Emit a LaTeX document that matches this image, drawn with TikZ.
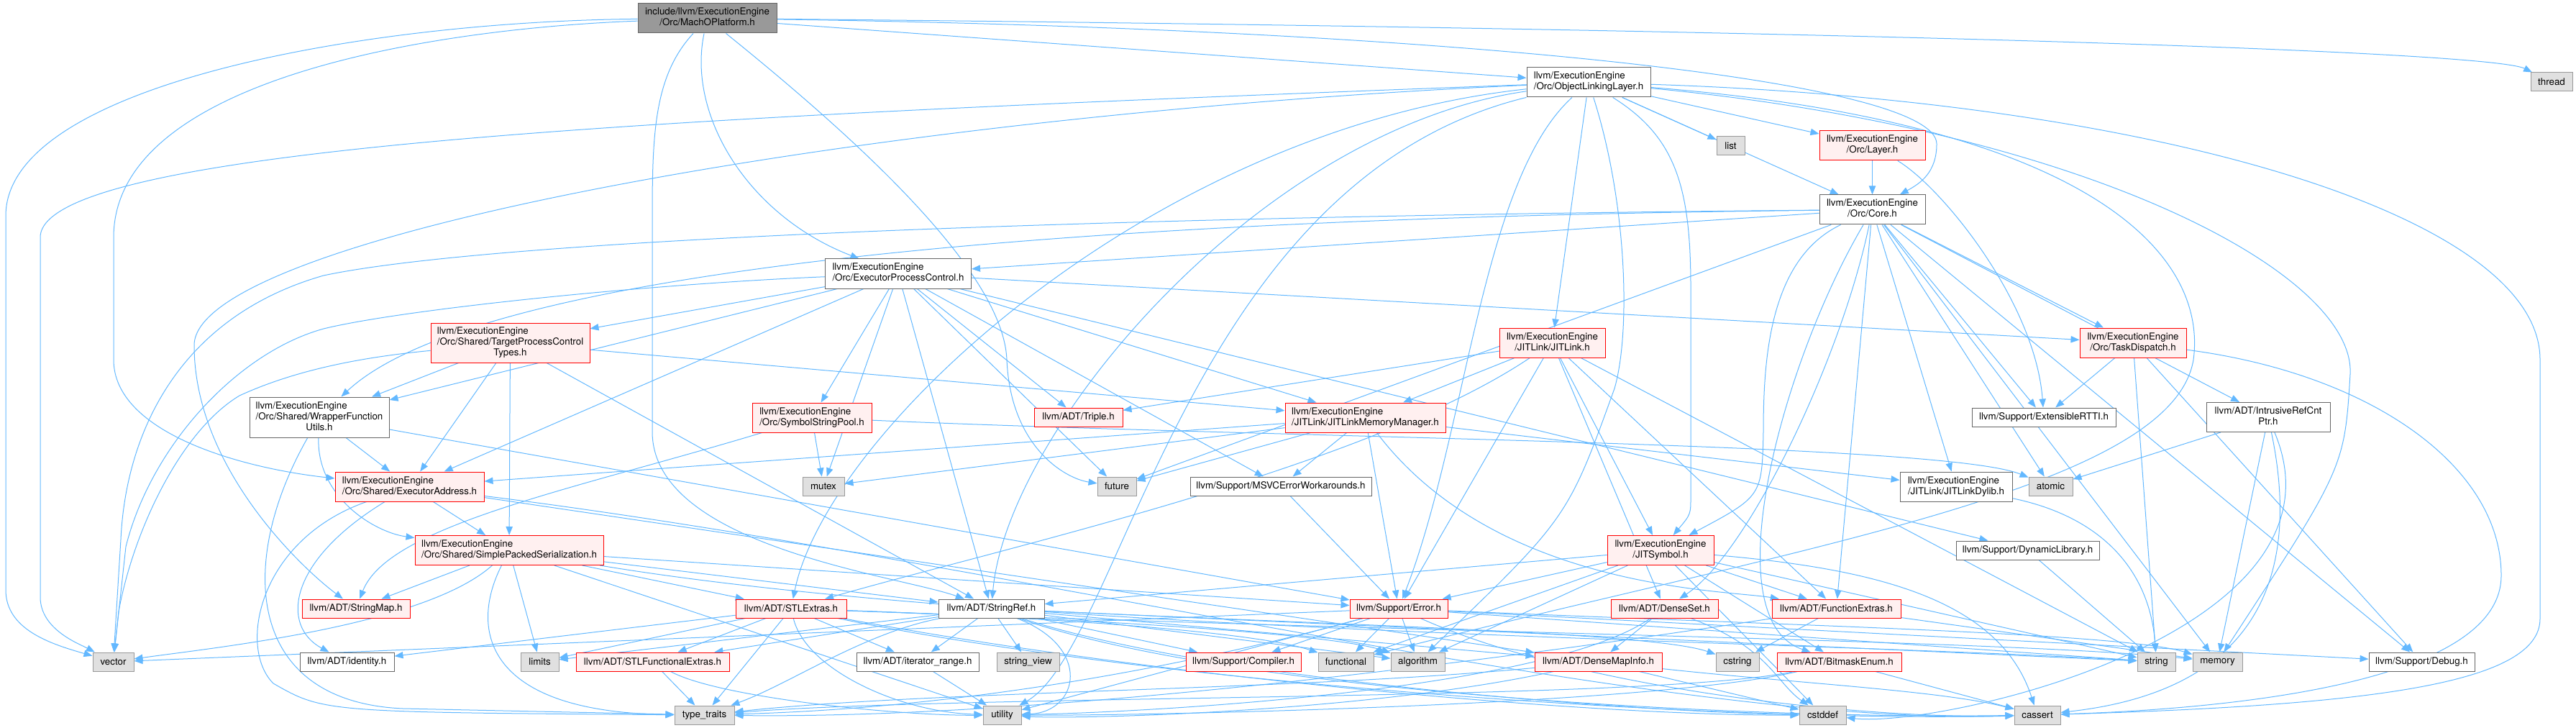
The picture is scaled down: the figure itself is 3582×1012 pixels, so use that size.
\documentclass[tikz,border=0pt]{standalone}
\usepackage{fontspec}
\setmainfont{TeX Gyre Heros}
\usetikzlibrary{arrows.meta}

\definecolor{edgeblue}{HTML}{63B8FF}
\definecolor{redfill}{HTML}{FFF0F0}
\definecolor{sysfill}{HTML}{E0E0E0}
\definecolor{sysline}{HTML}{999999}
\definecolor{fileline}{HTML}{666666}

\pgfdeclarelayer{edges}
\pgfsetlayers{edges,main}

% etiqueta de dos partes: lineas de arriba a la izquierda, la ultima centrada
\newcommand{\lbl}[2]{\begin{tabular}{@{}l@{}}#1\\\multicolumn{1}{@{}c@{}}{#2}\end{tabular}}

\tikzset{
  hdr/.style={inner sep=0pt, line width=0.75pt, font=\fontsize{10}{11.25}\selectfont},
  sz/.style 2 args={minimum width=#1*0.75pt, minimum height=#2*0.75pt},
  rootfile/.style={hdr, draw=fileline, fill=sysline},
  plainfile/.style={hdr, draw=fileline, fill=white},
  redfile/.style={hdr, draw=red, fill=redfill},
  sysfile/.style={hdr, draw=sysline, fill=sysfill},
  dep/.style={draw=edgeblue, line width=0.75pt, -{Triangle[length=9pt,width=7pt]}}
}

\begin{document}
\begin{tikzpicture}[x=0.75pt, y=-0.75pt]
  \useasboundingbox (0,0) rectangle (3582,1012);

  % Cabeceras (coordenadas en pixeles de la imagen)
  \node[rootfile, sz={193}{41}] (root) at (983.5,25.5) {\lbl{include/llvm/ExecutionEngine}{/Orc/MachOPlatform.h}};
  \node[plainfile, sz={172}{41}] (oll) at (2209,114.5) {\lbl{llvm/ExecutionEngine}{/Orc/ObjectLinkingLayer.h}};
  \node[sysfile, sz={58}{26}] (thread) at (3548,114) {thread};
  \node[sysfile, sz={39}{26}] (list) at (2406.5,203) {list};
  \node[redfile, sz={147}{41}] (layer) at (2603.5,202.5) {\lbl{llvm/ExecutionEngine}{/Orc/Layer.h}};
  \node[plainfile, sz={147}{41}] (core) at (2603.5,291.5) {\lbl{llvm/ExecutionEngine}{/Orc/Core.h}};
  \node[plainfile, sz={203}{41}] (epc) at (1249,380.5) {\lbl{llvm/ExecutionEngine}{/Orc/ExecutorProcessControl.h}};
  \node[redfile, sz={221}{55}] (tpct) at (709.5,476.5) {\lbl{llvm/ExecutionEngine\\/Orc/Shared/TargetProcessControl}{Types.h}};
  \node[redfile, sz={147}{41}] (jitlink) at (2158.5,476.5) {\lbl{llvm/ExecutionEngine}{/JITLink/JITLink.h}};
  \node[redfile, sz={148}{41}] (taskdisp) at (2966,476.5) {\lbl{llvm/ExecutionEngine}{/Orc/TaskDispatch.h}};
  \node[plainfile, sz={194}{56}] (wfu) at (444,580) {\lbl{llvm/ExecutionEngine\\/Orc/Shared/WrapperFunction}{Utils.h}};
  \node[redfile, sz={166}{41}] (ssp) at (1129,580.5) {\lbl{llvm/ExecutionEngine}{/Orc/SymbolStringPool.h}};
  \node[redfile, sz={123}{26}] (triple) at (1499.5,580) {llvm/ADT/Triple.h};
  \node[redfile, sz={223}{41}] (jlmm) at (1898.5,580.5) {\lbl{llvm/ExecutionEngine}{/JITLink/JITLinkMemoryManager.h}};
  \node[plainfile, sz={200}{26}] (extrtti) at (2842,580) {llvm/Support/ExtensibleRTTI.h};
  \node[plainfile, sz={172}{41}] (ircp) at (3154,580) {\lbl{llvm/ADT/IntrusiveRefCnt}{Ptr.h}};
  \node[redfile, sz={207}{41}] (execaddr) at (569.5,676.5) {\lbl{llvm/ExecutionEngine}{/Orc/Shared/ExecutorAddress.h}};
  \node[sysfile, sz={58}{26}] (mutex) at (1145,676) {mutex};
  \node[sysfile, sz={54}{26}] (future) at (1553,676) {future};
  \node[plainfile, sz={252}{26}] (msvc) at (1781,676) {llvm/Support/MSVCErrorWorkarounds.h};
  \node[plainfile, sz={156}{41}] (jldylib) at (2720,676.5) {\lbl{llvm/ExecutionEngine}{/JITLink/JITLinkDylib.h}};
  \node[sysfile, sz={61}{26}] (atomic) at (2851.5,676) {atomic};
  \node[redfile, sz={262}{41}] (sps) at (708,765) {\lbl{llvm/ExecutionEngine}{/Orc/Shared/SimplePackedSerialization.h}};
  \node[redfile, sz={148}{41}] (jitsym) at (2309,765) {\lbl{llvm/ExecutionEngine}{/JITSymbol.h}};
  \node[plainfile, sz={199}{26}] (dynlib) at (2819.5,765) {llvm/Support/DynamicLibrary.h};
  \node[redfile, sz={150}{26}] (strmap) at (495,846) {llvm/ADT/StringMap.h};
  \node[redfile, sz={154}{26}] (stlextras) at (1100,846) {llvm/ADT/STLExtras.h};
  \node[plainfile, sz={147}{26}] (strref) at (1378.5,846) {llvm/ADT/StringRef.h};
  \node[redfile, sz={136}{26}] (error) at (1945,846) {llvm/Support/Error.h};
  \node[redfile, sz={149}{26}] (denseset) at (2314.5,846) {llvm/ADT/DenseSet.h};
  \node[redfile, sz={179}{26}] (funcext) at (2553.5,846) {llvm/ADT/FunctionExtras.h};
  \node[sysfile, sz={57}{26}] (vector) at (157.5,920) {vector};
  \node[plainfile, sz={131}{26}] (identity) at (482.5,920) {llvm/ADT/identity.h};
  \node[sysfile, sz={53}{26}] (limits) at (750.5,920) {limits};
  \node[redfile, sz={213}{26}] (stlfe) at (907.5,920) {llvm/ADT/STLFunctionalExtras.h};
  \node[plainfile, sz={170}{26}] (iterrange) at (1276,920) {llvm/ADT/iterator\_range.h};
  \node[sysfile, sz={87}{26}] (strview) at (1429.5,920) {string\_view};
  \node[redfile, sz={160}{26}] (compiler) at (1729,920) {llvm/Support/Compiler.h};
  \node[sysfile, sz={77}{26}] (functional) at (1871.5,920) {functional};
  \node[sysfile, sz={75}{26}] (algorithm) at (1971.5,920) {algorithm};
  \node[redfile, sz={177}{26}] (dmapinfo) at (2222.5,920) {llvm/ADT/DenseMapInfo.h};
  \node[sysfile, sz={60}{26}] (cstring) at (2416,920) {cstring};
  \node[redfile, sz={173}{26}] (bitmask) at (2557.5,920) {llvm/ADT/BitmaskEnum.h};
  \node[sysfile, sz={53}{26}] (string) at (2998.5,920) {string};
  \node[sysfile, sz={69}{26}] (memory) at (3083.5,920) {memory};
  \node[plainfile, sz={147}{26}] (debug) at (3367.5,920) {llvm/Support/Debug.h};
  \node[sysfile, sz={83}{26}] (typetraits) at (979.5,994) {type\_traits};
  \node[sysfile, sz={53}{26}] (utility) at (1393.5,994) {utility};
  \node[sysfile, sz={65}{26}] (cstddef) at (2534.5,994) {cstddef};
  \node[sysfile, sz={64}{26}] (cassert) at (2833,994) {cassert};

  \begin{pgfonlayer}{edges}
    % MachOPlatform.h
    \draw[dep] (root) -- (oll);
    \draw[dep] (root) .. controls (955,160) and (1040,300) .. (epc);
    \draw[dep] (root) .. controls (2000,40) and (2692,110) .. (2693,200) .. controls (2693,240) and (2670,255) .. (core);
    \draw[dep] (root) .. controls (2500,40) and (3460,70) .. (thread);
    \draw[dep] (root) .. controls (500,30) and (8,120) .. (8,300) -- (8,820) .. controls (8,875) and (70,895) .. (vector);
    \draw[dep] (root) .. controls (600,40) and (158,110) .. (158,330) -- (158,500) .. controls (158,600) and (330,650) .. (execaddr);
    \draw[dep] (root) .. controls (905,110) and (907,200) .. (907,330) -- (907,600) .. controls (907,760) and (1250,800) .. (strref);
    \draw[dep] (root) .. controls (1200,200) and (1395,380) .. (1400,500) .. controls (1405,620) and (1480,665) .. (future);

    % ObjectLinkingLayer.h
    \foreach \dst in {layer,core,list,jitlink}
      \draw[dep] (oll) -- (\dst);
    \draw[dep] (oll) .. controls (2330,190) and (2351,260) .. (2351,400) -- (2351,690) .. controls (2351,715) .. (jitsym);
    \draw[dep] (oll) .. controls (2262,280) and (2268,460) .. (2245,540) .. controls (2180,720) .. (algorithm);
    \draw[dep] (oll) .. controls (2900,170) and (3070,350) .. (3050,500) .. controls (3020,680) and (2500,760) .. (functional);
    \draw[dep] (oll) .. controls (3000,140) and (3532,300) .. (3532,500) -- (3532,860) .. controls (3532,950) and (3300,980) .. (cassert);
    \draw[dep] (oll) .. controls (2900,180) and (3275,380) .. (3268,520) .. controls (3260,650) .. (memory);
    \draw[dep] (oll) .. controls (1000,160) and (56,200) .. (56,330) -- (56,830) .. controls (56,875) and (110,895) .. (vector);
    \draw[dep] (oll) .. controls (1200,160) and (270,330) .. (270,480) .. controls (270,650) and (420,790) .. (strmap);
    \draw[dep] (oll) .. controls (1600,180) and (1150,600) .. (stlextras);
    \draw[dep] (oll) .. controls (1750,180) and (1400,600) .. (strref);
    \draw[dep] (oll) .. controls (2060,250) and (2040,600) .. (error);
    \draw[dep] (oll) .. controls (1650,250) and (1560,900) .. (utility);

    % ExecutorProcessControl.h
    \foreach \dst in {wfu,execaddr,tpct,ssp,mutex,strref,triple,future,jlmm,msvc,taskdisp,dynlib}
      \draw[dep] (epc) -- (\dst);
    \draw[dep] (epc) .. controls (900,395) and (560,430) .. (450,457) .. controls (330,490) and (210,620) .. (175,760) -- (vector);

    % Layer.h y Core.h
    \draw[dep] (layer) -- (core);
    \draw[dep] (layer) .. controls (2700,260) and (2830,420) .. (extrtti);
    \foreach \dst in {epc,funcext,ircp,jldylib,taskdisp,extrtti,atomic,future,memory,debug}
      \draw[dep] (core) -- (\dst);
    \draw[dep] (core) .. controls (1800,300) and (700,340) .. (wfu);
    \draw[dep] (core) .. controls (1600,300) and (700,330) .. (450,383) .. controls (250,440) and (175,600) .. (168,750) -- (vector);
    \draw[dep] (core) .. controls (2460,360) and (2452,500) .. (2452,600) .. controls (2450,690) .. (jitsym);
    \draw[dep] (core) .. controls (2560,500) and (2430,770) .. (denseset);
    \draw[dep] (core) .. controls (2480,500) and (2380,860) .. (bitmask);

    % TargetProcessControlTypes.h
    \foreach \dst in {wfu,execaddr,sps,strref,jlmm}
      \draw[dep] (tpct) -- (\dst);
    \draw[dep] (tpct) .. controls (520,495) and (420,510) .. (333,550) .. controls (250,600) and (185,740) .. (165,850) -- (vector);

    % JITLink.h
    \foreach \dst in {jlmm,jitsym,denseset,funcext,error,string,triple}
      \draw[dep] (jitlink) -- (\dst);
    \draw[dep] (jitlink) .. controls (1900,650) and (1400,760) .. (stlextras);

    % JITLinkMemoryManager.h
    \foreach \dst in {jldylib,execaddr,error,msvc,future,mutex}
      \draw[dep] (jlmm) -- (\dst);
    \draw[dep] (jlmm) .. controls (2080,820) and (2400,820) .. (funcext);

    % WrapperFunctionUtils.h
    \draw[dep] (wfu) -- (execaddr);
    \draw[dep] (wfu) .. controls (440,690) and (520,740) .. (sps);
    \draw[dep] (wfu) -- (error);
    \draw[dep] (wfu) .. controls (330,780) and (340,975) .. (560,985) -- (typetraits);

    % ExecutorAddress.h
    \draw[dep] (execaddr) -- (sps);
    \draw[dep] (execaddr) -- (dmapinfo);
    \draw[dep] (execaddr) .. controls (400,780) and (390,870) .. (identity);
    \draw[dep] (execaddr) .. controls (360,750) and (330,900) .. (380,950) .. controls (450,990) .. (typetraits);
    \draw[dep] (execaddr) .. controls (1400,780) and (2300,1010) .. (cassert);

    % SimplePackedSerialization.h
    \foreach \dst in {stlextras,strmap,strref,error,limits,utility}
      \draw[dep] (sps) -- (\dst);
    \draw[dep] (sps) .. controls (650,880) and (680,990) .. (typetraits);
    \draw[dep] (sps) .. controls (1400,880) and (2500,890) .. (string);
    \draw[dep] (sps) .. controls (590,870) and (300,900) .. (vector);

    % SymbolStringPool.h
    \draw[dep] (ssp) -- (mutex);
    \draw[dep] (ssp) .. controls (800,680) and (540,730) .. (strmap);
    \draw[dep] (ssp) .. controls (1800,610) and (2700,615) .. (atomic);

    % TaskDispatch.h, IntrusiveRefCntPtr.h y otros
    \foreach \dst in {extrtti,string,debug}
      \draw[dep] (taskdisp) -- (\dst);
    \draw[dep] (taskdisp) .. controls (3300,520) and (3478,650) .. (3478,800) .. controls (3478,950) and (3100,985) .. (cassert);
    \draw[dep] (ircp) -- (atomic);
    \draw[dep] (ircp) -- (memory);
    \draw[dep] (ircp) .. controls (3200,800) and (3140,960) .. (cassert);
    \draw[dep] (ircp) .. controls (3280,880) and (2700,1012) .. (cstddef);
    \draw[dep] (jldylib) .. controls (2930,720) and (2990,800) .. (string);
    \draw[dep] (dynlib) -- (string);
    \draw[dep] (msvc) -- (error);

    % JITSymbol.h
    \foreach \dst in {error,algorithm,functional,funcext,bitmask,cstddef,string,strref}
      \draw[dep] (jitsym) -- (\dst);
    \draw[dep] (jitsym) .. controls (2600,790) and (2780,830) .. (cassert);

    % StringRef.h
    \foreach \dst in {dmapinfo,stlfe,iterrange,compiler,algorithm,limits,string,strview}
      \draw[dep] (strref) -- (\dst);
    \draw[dep] (strref) .. controls (1700,960) and (2400,1000) .. (cassert);
    \draw[dep] (strref) .. controls (1700,950) and (2300,990) .. (cstddef);
    \draw[dep] (strref) .. controls (1900,870) and (2300,880) .. (cstring);
    \draw[dep] (strref) .. controls (1200,880) and (1100,950) .. (typetraits);
    \draw[dep] (strref) .. controls (1520,900) and (1500,990) .. (utility);

    % STLExtras.h
    \foreach \dst in {stlfe,identity,iterrange,limits,typetraits}
      \draw[dep] (stlextras) -- (\dst);
    \draw[dep] (stlextras) .. controls (1500,860) and (1850,880) .. (algorithm);
    \draw[dep] (stlextras) .. controls (1500,860) and (1750,880) .. (functional);
    \draw[dep] (stlextras) .. controls (2000,880) and (2800,890) .. (memory);
    \draw[dep] (stlextras) .. controls (1600,950) and (2400,1005) .. (cassert);
    \draw[dep] (stlextras) .. controls (1600,940) and (2200,995) .. (cstddef);
    \draw[dep] (stlextras) .. controls (1120,930) and (1250,990) .. (utility);

    % Error.h
    \foreach \dst in {compiler,functional,algorithm,utility,vector,string,debug}
      \draw[dep] (error) -- (\dst);
    \draw[dep] (error) .. controls (1600,940) and (1300,985) .. (typetraits);
    \draw[dep] (error) .. controls (2500,870) and (2950,880) .. (memory);
    \draw[dep] (error) .. controls (2200,960) and (2600,1000) .. (cassert);

    % ADT de la fila de abajo
    \draw[dep] (denseset) -- (dmapinfo);
    \draw[dep] (denseset) .. controls (2460,900) and (2470,950) .. (cstddef);
    \draw[dep] (denseset) .. controls (2150,960) and (1600,990) .. (utility);
    \draw[dep] (funcext) -- (cstring);
    \draw[dep] (funcext) -- (memory);
    \draw[dep] (funcext) .. controls (2200,900) and (1500,1000) .. (typetraits);
    \draw[dep] (dmapinfo) -- (cstddef);
    \draw[dep] (dmapinfo) .. controls (2500,950) and (2700,960) .. (cassert);
    \draw[dep] (dmapinfo) .. controls (1900,990) and (1500,1000) .. (utility);
    \draw[dep] (dmapinfo) .. controls (1800,960) and (1300,960) .. (typetraits);
    \draw[dep] (bitmask) -- (cassert);
    \draw[dep] (bitmask) .. controls (2300,980) and (1600,995) .. (utility);
    \draw[dep] (bitmask) .. controls (2300,975) and (1350,965) .. (typetraits);
    \draw[dep] (stlfe) -- (typetraits);
    \draw[dep] (stlfe) .. controls (1000,970) and (1250,995) .. (utility);
    \draw[dep] (iterrange) -- (utility);
  \end{pgfonlayer}
\end{tikzpicture}
\end{document}
